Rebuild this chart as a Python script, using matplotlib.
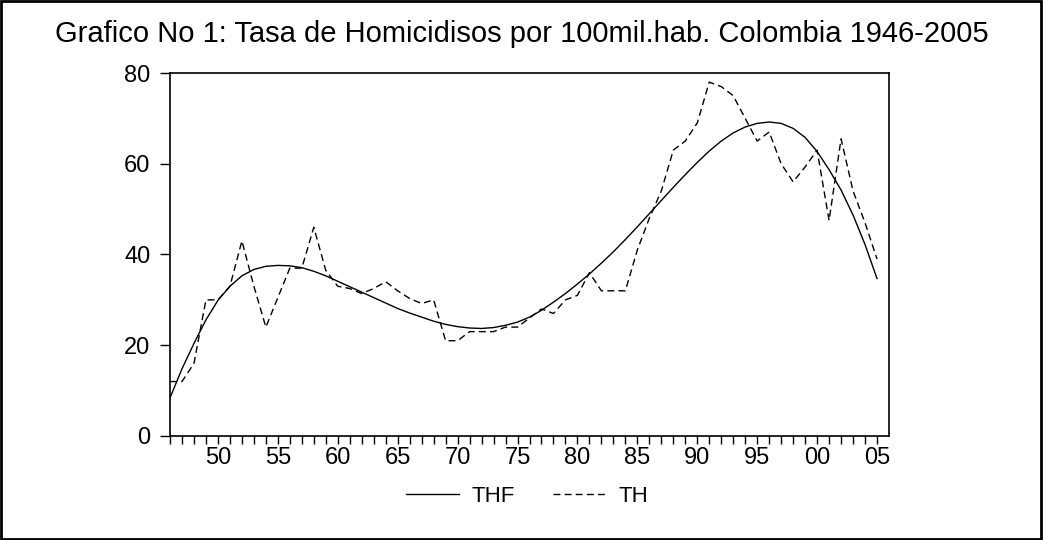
import matplotlib
matplotlib.use("Agg")
import matplotlib.pyplot as plt
from matplotlib.patches import Rectangle
from matplotlib.lines import Line2D

years = list(range(1946, 2006))

th = [12, 12, 16, 30, 30, 33, 43, 33, 24, 30.5,
      37, 37, 46, 36.5, 33, 32.5, 31.4, 32.5, 34, 32,
      30.3, 29.2, 30, 21, 21, 23, 23, 23, 24, 24,
      26, 28, 27, 30, 31, 36, 32, 32, 32, 41,
      48, 54, 63, 65, 69, 78, 77, 75, 70, 65,
      67, 60, 56, 59.3, 63, 47.5, 65.5, 54, 47, 39]

thf = [8.4, 14.8, 20.4, 25.6, 29.9, 33.0, 35.3, 36.7, 37.4, 37.6,
       37.5, 37.1, 36.3, 35.3, 34.1, 32.9, 31.7, 30.5, 29.3, 28.1,
       27.1, 26.2, 25.3, 24.6, 24.1, 23.8, 23.7, 23.9, 24.4, 25.1,
       26.2, 27.7, 29.5, 31.4, 33.5, 35.7, 38.1, 40.6, 43.3, 46.1,
       49.0, 51.9, 54.8, 57.6, 60.3, 62.8, 65.0, 66.8, 68.1, 68.9,
       69.2, 68.9, 67.8, 65.8, 62.7, 58.7, 54.2, 48.7, 42.2, 34.7]

ytick_vals = [0, 20, 40, 60, 80]
xtick_years = [1950, 1955, 1960, 1965, 1970, 1975, 1980, 1985, 1990, 1995, 2000, 2005]
xtick_labels = ["50", "55", "60", "65", "70", "75", "80", "85", "90", "95", "00", "05"]

title = "Grafico No 1: Tasa de Homicidisos por 100mil.hab. Colombia 1946-2005"
series_names = ["THF", "TH"]

plt.rcParams['font.family'] = ['Liberation Sans', 'DejaVu Sans']

fig = plt.figure(figsize=(10.43, 5.40), dpi=100)
ax = fig.add_axes([170/1043, 1 - 436/540, (889-170)/1043, (436-73)/540])

ax.plot(years, thf, color="black", lw=1.0, solid_joinstyle="round")
ax.plot(years, th, color="black", lw=1.0, dashes=(5, 3))

ax.set_xlim(1946, 2006)
ax.set_ylim(0, 80)
ax.set_yticks(ytick_vals)
ax.set_yticklabels([str(v) for v in ytick_vals])
ax.set_xticks(xtick_years)
ax.set_xticklabels(xtick_labels)
ax.set_xticks(years, minor=True)
ax.tick_params(axis="y", direction="out", length=7, width=1, pad=7, labelsize=17)
ax.tick_params(axis="x", which="both", direction="out", length=6, width=1, pad=2, labelsize=17)
for s in ax.spines.values():
    s.set_linewidth(1.2)

fig.text(0.5, 1 - 34/540, title, ha="center", va="center", fontsize=21)

handles = [Line2D([], [], color="black", lw=1.0),
           Line2D([], [], color="black", lw=1.0, dashes=(5, 3))]
fig.legend(handles, series_names, loc="center", bbox_to_anchor=(527/1043, 1 - 496/540),
           ncol=2, frameon=False, fontsize=16, handlelength=2.4, columnspacing=1.7,
           handletextpad=0.55)

fig.patches.append(Rectangle((0.001, 0.002), 0.997, 0.996, transform=fig.transFigure,
                             fill=False, edgecolor="black", lw=2))

fig.savefig("out.png", dpi=100)
